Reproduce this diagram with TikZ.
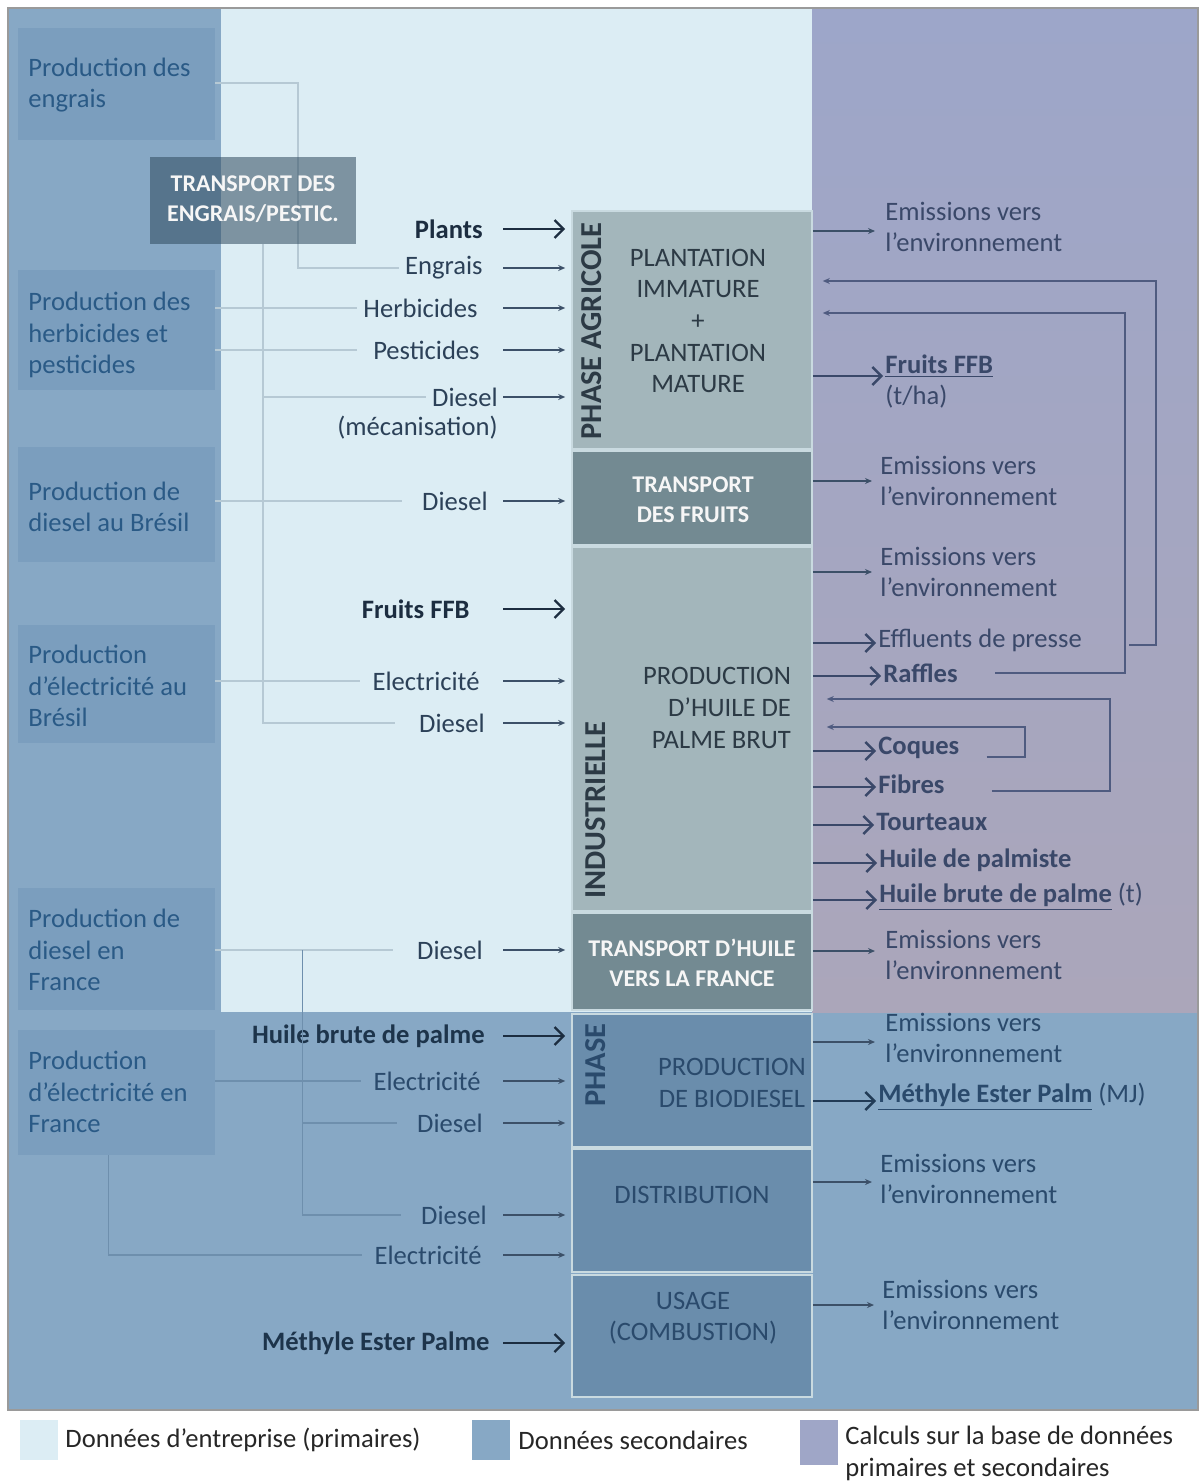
\documentclass[tikz,border=0pt]{standalone}
\usepackage{fontspec}
\setmainfont{Carlito}
\usetikzlibrary{positioning,arrows.meta,fit}

\definecolor{primfill}{HTML}{DCEDF4}
\definecolor{secfill}{HTML}{87A8C5}
\definecolor{calctop}{HTML}{9DA6C9}
\definecolor{calcbot}{HTML}{ABA6BA}
\definecolor{srcfill}{HTML}{7B9EBE}
\definecolor{srctxt}{HTML}{2A5A86}
\definecolor{trsfill}{HTML}{2F4A5E}
\definecolor{agrfill}{HTML}{A3B6BB}
\definecolor{trffill}{HTML}{738A92}
\definecolor{biofill}{HTML}{6A8DAC}
\definecolor{sepc}{HTML}{C9DAE0}
\definecolor{intxt}{HTML}{2C4158}
\definecolor{boldtxt}{HTML}{1C2D40}
\definecolor{lowtxt}{HTML}{2A4A6C}
\definecolor{outtxt}{HTML}{3A4869}
\definecolor{boxtxt}{HTML}{2C3A45}
\definecolor{linkc}{HTML}{B6C9D4}
\definecolor{linklow}{HTML}{6E8FAD}
\definecolor{arrc}{HTML}{3C5068}
\definecolor{fbc}{HTML}{4F5B80}
\definecolor{framec}{HTML}{9A9A9A}

\newcommand{\txtsize}{\fontsize{13.3}{15.8}\selectfont}

\begin{document}
\begin{tikzpicture}
    [x=0.5pt, y=-0.5pt,
     srcbox/.style = {fill=srcfill, inner sep=0pt},
     srctext/.style = {anchor=west, inner sep=0pt, text=srctxt, align=left, font=\txtsize},
     midbox/.style = {draw=sepc, line width=0.8pt, inner sep=0pt},
     midtxt/.style = {text=boxtxt, align=center, font=\txtsize},
     trstxt/.style = {text=white!93!gray, align=center, font=\bfseries\fontsize{12}{15}\selectfont},
     phase/.style = {rotate=90, text=boxtxt, font=\bfseries\fontsize{15.2}{18}\selectfont},
     intext/.style = {anchor=east, inner sep=0pt, text=intxt, font=\txtsize},
     inbold/.style = {intext, text=boldtxt, font=\bfseries\txtsize},
     outtext/.style = {anchor=west, inner sep=0pt, text=outtxt, align=left, font=\txtsize},
     link/.style = {draw=linkc, line width=0.8pt},
     thinarr/.style = {draw=arrc, line width=0.6pt, -{Stealth[length=3.5pt,width=3pt]}},
     thickarr/.style = {draw=boldtxt, line width=1.2pt, -{Straight Barb[length=4.5pt,width=9pt]}},
     fbarr/.style = {draw=fbc, line width=0.8pt, -{Stealth[length=3.5pt,width=3pt]}}]
    \useasboundingbox (0,0) rectangle (1198,1481);
    % Zones of the diagram
    \fill[secfill] (8,8) rectangle (1198,1410);
    \fill[primfill] (221,8) rectangle (812,1012);
    \shade[top color=calctop, bottom color=calcbot] (812,8) rectangle (1198,1012);
    \draw[framec, line width=0.6pt] (8,8) rectangle (1198,1410);
    % Upstream production
    \node[srcbox, fit={(18,28) (215,140)}] (engr) {};
    \node[srcbox, fit={(18,270) (215,390)}] (herb) {};
    \node[srcbox, fit={(18,447) (215,562)}] (dbr) {};
    \node[srcbox, fit={(18,625) (215,743)}] (ebr) {};
    \node[srcbox, fit={(18,888) (215,1010)}] (dfr) {};
    \node[srcbox, fit={(18,1030) (215,1155)}] (efr) {};
    \node[srctext] (engrtxt) at (28,85) {Production des\\engrais};
    \node[srctext] (herbtxt) at (28,335) {Production des\\herbicides et\\pesticides};
    \node[srctext] (dbrtxt) at (28,507) {Production de\\diesel au Brésil};
    \node[srctext] (ebrtxt) at (28,686) {Production\\d’électricité au\\Brésil};
    \node[srctext] (dfrtxt) at (28,950) {Production de\\diesel en\\France};
    \node[srctext] (efrtxt) at (28,1092) {Production\\d’électricité en\\France};
    % Stages of the chain
    \node[midbox, fill=agrfill, fit={(572,211) (812,449)}] (plant) {};
    \node[midbox, fill=trffill, fit={(572,451) (812,545)}] (trf) {};
    \node[midbox, fill=agrfill, fit={(572,547) (812,911)}] (prod) {};
    \node[midbox, fill=trffill, fit={(572,913) (812,1010)}] (trh) {};
    \node[midbox, fill=biofill, fit={(572,1014) (812,1147)}] (bio) {};
    \node[midbox, fill=biofill, fit={(572,1149) (812,1272)}] (dist) {};
    \node[midbox, fill=biofill, fit={(572,1275) (812,1397)}] (usage) {};
    \node[phase] (phagr) at (592,331) {PHASE AGRICOLE};
    \node[phase] (phind) at (596,810) {INDUSTRIELLE};
    \node[phase, text=lowtxt] (phbio) at (596,1065) {PHASE};
    \node[midtxt] (planttxt) at (698,321) {PLANTATION\\IMMATURE\\+\\PLANTATION\\MATURE};
    \node[trstxt] (trftxt) at (693,500) {TRANSPORT\\DES FRUITS};
    \node[midtxt, align=right, anchor=east] (prodtxt) at (798,708) {PRODUCTION\\D’HUILE DE\\PALME BRUT};
    \node[trstxt] (trhtxt) at (692,963) {TRANSPORT D’HUILE\\VERS LA FRANCE};
    \node[midtxt, text=lowtxt] (biotxt) at (732,1083) {PRODUCTION\\DE BIODIESEL};
    \node[midtxt, text=lowtxt] (disttxt) at (692,1195) {DISTRIBUTION};
    \node[midtxt, text=lowtxt] (usagetxt) at (693,1318) {USAGE\\(COMBUSTION)};
    % Inputs
    \coordinate (ax) at (503,0);
    \node[inbold] (plin) at (483,229) {Plants};
    \node[intext] (engin) at (483,268) {Engrais};
    \node[intext] (hin) at (478,308) {Herbicides};
    \node[intext] (pin) at (480,350) {Pesticides};
    \node[intext] (dmec) at (498,397) {Diesel};
    \node[intext] (mec) at (498,428) {(mécanisation)};
    \node[intext] (dtrf) at (488,501) {Diesel};
    \node[inbold] (ffin) at (470,609) {Fruits FFB};
    \node[intext] (elin) at (480,681) {Electricité};
    \node[intext] (dind) at (485,723) {Diesel};
    \node[intext] (dtrh) at (483,950) {Diesel};
    \node[inbold, text=lowtxt!70!black] (hbin) at (485,1036) {Huile brute de palme};
    \node[intext, text=lowtxt] (elbio) at (481,1081) {Electricité};
    \node[intext, text=lowtxt] (dbio) at (483,1123) {Diesel};
    \node[intext, text=lowtxt] (ddist) at (487,1215) {Diesel};
    \node[intext, text=lowtxt] (eldist) at (482,1255) {Electricité};
    \node[inbold, text=lowtxt!70!black] (mein) at (490,1343) {Méthyle Ester Palme};
    \foreach \n in {engin,hin,pin,dmec,dtrf,elin,dind,dtrh,elbio,dbio,ddist,eldist}
        \draw[thinarr, shorten >=3pt] (\n.east -| ax) -- (\n.east -| plant.west);
    \foreach \n in {plin,ffin,hbin,mein}
        \draw[thickarr, shorten >=3pt] (\n.east -| ax) -- (\n.east -| plant.west);
    % Lines from upstream production
    \draw[link] (engr.east |- 0,83) -| (engin.west -| 298,0) -- ([xshift=-3pt]engin.west);
    % Fertiliser transport
    \node[fill=trsfill, fill opacity=0.55, inner sep=0pt, fit={(150,157) (356,244)}] (tre) {};
    \node[trstxt] (tretxt) at (253,199) {TRANSPORT DES\\ENGRAIS/PESTIC.};
    \draw[link] (herb.east |- hin.west) -- ([xshift=-3pt]hin.west);
    \draw[link] (herb.east |- pin.west) -- ([xshift=-8pt]pin.west);
    \draw[link] ([xshift=5pt]tre.south) |- ([xshift=-3pt]dmec.west);
    \draw[link] ([xshift=5pt]tre.south) |- ([xshift=-12pt]dind.west);
    \draw[link] (dbr.east |- dtrf.west) -- ([xshift=-10pt]dtrf.west);
    \draw[link] (ebr.east |- elin.west) -- ([xshift=-6pt]elin.west);
    \draw[link] (dfr.east |- dtrh.west) -- ([xshift=-12pt]dtrh.west);
    \draw[link, draw=linklow] (dfr.east |- dtrh.west) ++(87,0) |- ([xshift=-10pt]dbio.west);
    \draw[link, draw=linklow] (dfr.east |- dtrh.west) ++(87,0) |- ([xshift=-10pt]ddist.west);
    \draw[link, draw=linklow] (efr.east |- elbio.west) -- ([xshift=-6pt]elbio.west);
    \draw[link, draw=linklow] ([xshift=-4pt]efr.south) |- ([xshift=-6pt]eldist.west);
    % Outputs
    \node[outtext] (em1) at (885,227) {Emissions vers\\l’environnement};
    \node[outtext, font=\bfseries\txtsize] (ffbo) at (885,366) {\underline{Fruits FFB}};
    \node[outtext] (tha) at (885,397) {(t/ha)};
    \node[outtext] (em2) at (880,481) {Emissions vers\\l’environnement};
    \node[outtext] (em3) at (880,572) {Emissions vers\\l’environnement};
    \node[outtext] (eff) at (878,640) {Effluents de presse};
    \node[outtext, font=\bfseries\txtsize] (raf) at (883,673) {Raffles};
    \node[outtext, font=\bfseries\txtsize] (coq) at (878,748) {Coques};
    \node[outtext, font=\bfseries\txtsize] (fib) at (878,784) {Fibres};
    \node[outtext, font=\bfseries\txtsize] (tou) at (876,822) {Tourteaux};
    \node[outtext, font=\bfseries\txtsize] (hpal) at (879,860) {Huile de palmiste};
    \node[outtext] (hbp) at (879,897) {\textbf{\underline{Huile brute de palme}} (t)};
    \node[outtext] (em4) at (885,955) {Emissions vers\\l’environnement};
    \node[outtext, text=lowtxt] (em5) at (885,1038) {Emissions vers\\l’environnement};
    \node[outtext, text=lowtxt] (mep) at (878,1097) {\textbf{\underline{Méthyle Ester Palm}} (MJ)};
    \node[outtext, text=lowtxt] (em6) at (880,1179) {Emissions vers\\l’environnement};
    \node[outtext, text=lowtxt] (em7) at (882,1305) {Emissions vers\\l’environnement};
    \draw[thinarr, shorten >=5pt] ([yshift=-2pt]em1.west -| plant.east) -- ([yshift=-2pt]em1.west);
    \draw[thinarr, shorten >=4pt] (em2.west -| trf.east) -- (em2.west);
    \draw[thinarr, shorten >=4pt] (em3.west -| prod.east) -- (em3.west);
    \draw[thinarr, shorten >=5pt] ([yshift=2pt]em4.west -| trh.east) -- ([yshift=2pt]em4.west);
    \draw[thinarr, shorten >=5pt] ([yshift=-2pt]em5.west -| bio.east) -- ([yshift=-2pt]em5.west);
    \draw[thinarr, shorten >=4pt] ([yshift=-1.5pt]em6.west -| dist.east) -- ([yshift=-1.5pt]em6.west);
    \draw[thinarr, shorten >=4pt] (em7.west -| usage.east) -- (em7.west);
    \draw[thickarr, draw=outtxt, shorten >=1pt] ([yshift=-5pt]ffbo.west -| plant.east) -- ([yshift=-5pt]ffbo.west);
    \foreach \n in {eff,raf,coq,fib,tou,hpal,hbp}
        \draw[thickarr, draw=outtxt, shorten >=1pt] ([yshift=-1.5pt]\n.west -| prod.east) -- ([yshift=-1.5pt]\n.west);
    \draw[thickarr, draw=lowtxt!80!black, shorten >=1pt] ([yshift=-2pt]mep.west -| bio.east) -- ([yshift=-2pt]mep.west);
    % Co-products sent back
    \coordinate (fbA) at (1156,281);
    \coordinate (fbB) at (1125,313);
    \coordinate (fbC) at (1110,699);
    \coordinate (fbD) at (1025,727);
    \draw[fbarr, shorten >=5pt] ([xshift=23.5pt,yshift=-2.5pt]eff.east) -| (fbA) -- (fbA -| plant.east);
    \draw[fbarr, shorten >=5pt] ([xshift=18.5pt]raf.east) -| (fbB) -- (fbB -| plant.east);
    \draw[fbarr, shorten >=7pt] ([xshift=23.5pt,yshift=-3.5pt]fib.east) -| (fbC) -- (fbC -| prod.east);
    \draw[fbarr, shorten >=7pt] ([xshift=13.5pt,yshift=-4.5pt]coq.east) -| (fbD) -- (fbD -| prod.east);
    % Legend
    \fill[primfill] (20,1420) rectangle (58,1460);
    \fill[secfill] (472,1420) rectangle (510,1460);
    \fill[calctop!85!calcbot] (800,1420) rectangle (838,1465);
    \node[outtext, text=black!85] (lgprim) at (65,1440) {Données d’entreprise (primaires)};
    \node[outtext, text=black!85] (lgsec) at (518,1440) {Données secondaires};
    \node[outtext, text=black!85, anchor=north west] (lgcalc) at (845,1426) {Calculs sur la base de données\\primaires et secondaires};
\end{tikzpicture}
\end{document}
